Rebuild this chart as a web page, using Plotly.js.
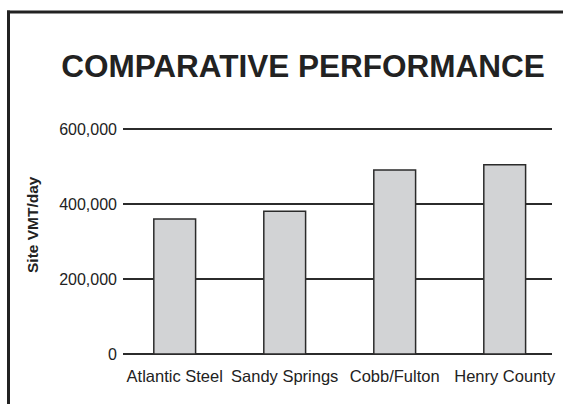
<!DOCTYPE html>
<html>
<head>
<meta charset="utf-8">
<script src="https://cdn.plot.ly/plotly-3.0.1.min.js"></script>
<style>html,body{margin:0;padding:0;background:#fff;}#chart{width:563px;height:404px;}</style>
</head>
<body>
<div id="chart"></div>
<script>
const categories = ["Atlantic Steel", "Sandy Springs", "Cobb/Fulton", "Henry County"];
const vmtPerDay = [360000, 381000, 491000, 505000];
const yTickVals = [0, 200000, 400000, 600000];
const yTickText = ["0", "200,000", "400,000", "600,000"];

const FONT = "Liberation Sans, Arial, Helvetica, sans-serif";
const INK = "#2b2b2b";
const PLOT_H = 232;
const Y_TOP = 200000 * PLOT_H / 75;

const trace = {
  type: "bar",
  x: categories.map((c, i) => i),
  y: vmtPerDay,
  width: 0.38,
  marker: { color: "#d2d3d5", line: { color: INK, width: 1.5 } },
  hoverinfo: "skip"
};

const layout = {
  width: 563, height: 404,
  margin: { l: 123, r: 11, t: 404 - 50 - PLOT_H, b: 50 },
  paper_bgcolor: "#fff", plot_bgcolor: "#fff",
  showlegend: false,
  title: {
    text: "<b>COMPARATIVE PERFORMANCE</b>",
    font: { family: FONT, size: 31.5, color: "#222" },
    x: 303 / 563, xref: "container", xanchor: "center",
    y: 1 - 66 / 404, yref: "container", yanchor: "middle"
  },
  xaxis: {
    range: [-0.47, 3.43],
    tickvals: [0, 1, 2, 3],
    ticktext: categories,
    showgrid: false, zeroline: false,
    showline: false, ticks: "",
    tickfont: { family: FONT, size: 16.5, color: "#222" },
    ticklabelstandoff: 10
  },
  yaxis: {
    range: [0, Y_TOP],
    tickvals: yTickVals,
    ticktext: yTickText,
    showgrid: true, gridcolor: INK, gridwidth: 1.2,
    zeroline: true, zerolinecolor: INK, zerolinewidth: 1.2,
    showline: false, ticks: "",
    tickfont: { family: FONT, size: 16, color: "#222" },
    ticklabelstandoff: 5
  },
  annotations: [{
    text: "<b>Site VMT/day</b>",
    xref: "paper", yref: "paper",
    x: (32 - 123) / 429, y: (354 - 225) / PLOT_H,
    xanchor: "center", yanchor: "middle",
    textangle: -90, showarrow: false,
    font: { family: FONT, size: 15.5, color: "#222" }
  }],
  shapes: [
    { type: "line", xref: "paper", yref: "paper",
      x0: (8.5 - 123) / 429, x1: (8.5 - 123) / 429,
      y0: (354 - 10.5) / PLOT_H, y1: (354 - 420) / PLOT_H,
      line: { color: "#222", width: 3 } },
    { type: "line", xref: "paper", yref: "paper",
      x0: (7 - 123) / 429, x1: (580 - 123) / 429,
      y0: (354 - 12) / PLOT_H, y1: (354 - 12) / PLOT_H,
      line: { color: "#222", width: 3 } }
  ]
};

Plotly.newPlot("chart", [trace], layout, { staticPlot: true, displayModeBar: false });
</script>
</body>
</html>
